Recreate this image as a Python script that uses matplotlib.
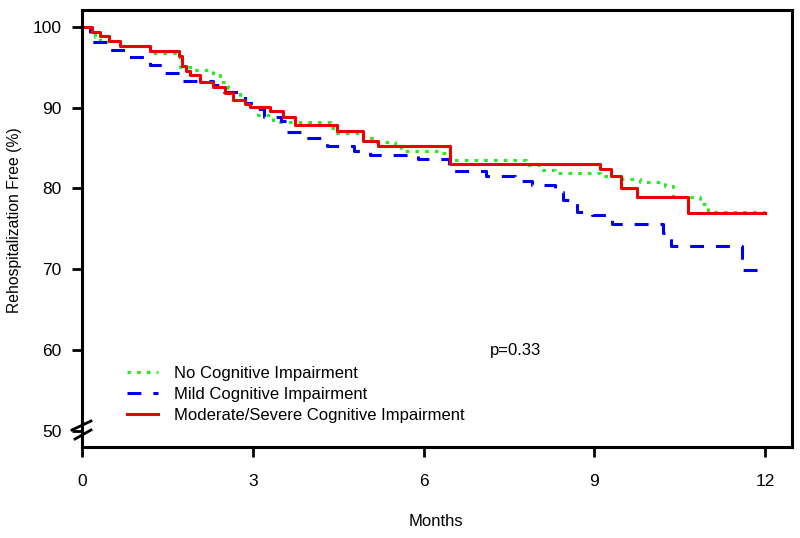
import matplotlib
matplotlib.use("Agg")
import matplotlib.pyplot as plt
from matplotlib.lines import Line2D

plt.rcParams['font.family'] = ['Liberation Sans', 'DejaVu Sans']
plt.rcParams['lines.scale_dashes'] = False

# --- data (months, % rehospitalization free) ---
no_t = [0, 0.14, 0.23, 0.32, 0.72, 1.2, 1.63, 1.72, 2.0, 2.3, 2.42, 2.56, 2.63, 2.77, 2.86,
        2.95, 3.09, 3.36, 4.36, 4.45, 4.94, 5.15, 5.5, 5.6, 6.29, 6.47, 7.8, 8.05, 8.3,
        9.1, 9.47, 9.8, 10.24, 10.38, 10.85, 11.0, 12.0]
no_s = [100, 99.3, 98.7, 98.2, 97.6, 96.8, 96.5, 95.1, 94.7, 94.1, 93.2, 92.4, 92.0, 91.3, 91.0,
        90.1, 89.1, 88.2, 87.5, 86.9, 86.3, 85.8, 85.2, 84.6, 84.4, 83.5, 82.9, 82.3, 81.9,
        81.6, 81.2, 80.8, 80.3, 79.0, 78.1, 77.1, 77.1]

mild_t = [0, 0.14, 0.5, 0.8, 1.2, 1.45, 1.77, 2.3, 2.5, 2.86, 3.05, 3.2, 3.5, 3.6, 3.88,
          4.3, 4.77, 5.05, 5.9, 6.45, 7.1, 7.6, 7.9, 8.3, 8.45, 8.7, 8.95, 9.3, 10.2,
          10.35, 11.6, 12.0]
mild_s = [100, 98.1, 97.2, 96.3, 95.3, 94.3, 93.3, 92.8, 91.9, 90.6, 89.9, 88.9, 88.3, 87.0, 86.2,
          85.2, 84.6, 84.2, 83.6, 82.1, 81.6, 80.9, 80.4, 79.6, 78.6, 77.1, 76.7, 75.6, 74.5,
          72.9, 69.9, 69.9]

mod_t = [0, 0.18, 0.32, 0.47, 0.67, 1.2, 1.7, 1.75, 1.82, 1.9, 2.07, 2.3, 2.51, 2.65, 2.86,
         2.95, 3.3, 3.53, 3.74, 4.48, 4.94, 5.2, 6.47, 9.1, 9.29, 9.47, 9.75, 10.65, 12.0]
mod_s = [100, 99.4, 98.9, 98.3, 97.6, 97.0, 96.4, 95.2, 94.6, 94.0, 93.2, 92.6, 91.8, 91.0, 90.4,
         90.1, 89.6, 88.9, 87.8, 87.1, 85.9, 85.3, 83.0, 82.4, 81.6, 80.0, 79.0, 77.0, 77.0]

labels = ["No Cognitive Impairment", "Mild Cognitive Impairment",
          "Moderate/Severe Cognitive Impairment"]
x_ticks = [0, 3, 6, 9, 12]
y_ticks = [50, 60, 70, 80, 90, 100]

fig = plt.figure(figsize=(8, 5.38), dpi=100)
ax = fig.add_axes([82/800, 1-447/538, (792-82)/800, (447-10)/538])

lw = 2.2
green_d = (2.6, 4.4)
blue_d = (10, 8.6)
ax.step(no_t, no_s, where='post', color='#22ee22', lw=lw, dashes=green_d)
ax.step(mild_t, mild_s, where='post', color='#0000ee', lw=lw, dashes=blue_d)
ax.step(mod_t, mod_s, where='post', color='#ee0000', lw=lw)

ax.set_xlim(0, 12.47)
ax.set_ylim(47.98, 102.1)
ax.set_xticks(x_ticks)
ax.set_yticks(y_ticks)
ax.tick_params(axis='both', direction='out', length=7.5, width=2, labelsize=12.5)
ax.tick_params(axis='x', pad=12)
ax.tick_params(axis='y', pad=7)
for s in ax.spines.values():
    s.set_linewidth(2.2)

ax.set_xlabel("Months", fontsize=12, va='center')
ax.xaxis.set_label_coords((436-82)/710, (447-522)/437)
ax.set_ylabel("Rehospitalization Free (%)", fontsize=11.3, va='center')
ax.yaxis.set_label_coords((14.5-82)/710, (447-220)/437)

# axis break marks
tr = fig.transFigure
for (x0, y0, x1, y1) in [(72, 430, 91, 421), (75, 439, 91, 430)]:
    fig.add_artist(Line2D([x0/800, x1/800], [1-y0/538, 1-y1/538], color='black',
                          lw=2, transform=tr))

ax.text(7.62, 59.9, "p=0.33", fontsize=12, ha='center', va='center')

handles = [Line2D([], [], color='#22ee22', lw=lw, dashes=green_d),
           Line2D([], [], color='#0000ee', lw=lw, dashes=blue_d),
           Line2D([], [], color='#ee0000', lw=lw)]
leg = ax.legend(handles, labels, loc='upper left', bbox_to_anchor=(0.0535, 0.20),
                frameon=False, fontsize=12, handlelength=1.86, handletextpad=0.96,
                labelspacing=0.35, borderaxespad=0)

fig.savefig("out.png", dpi=100)
